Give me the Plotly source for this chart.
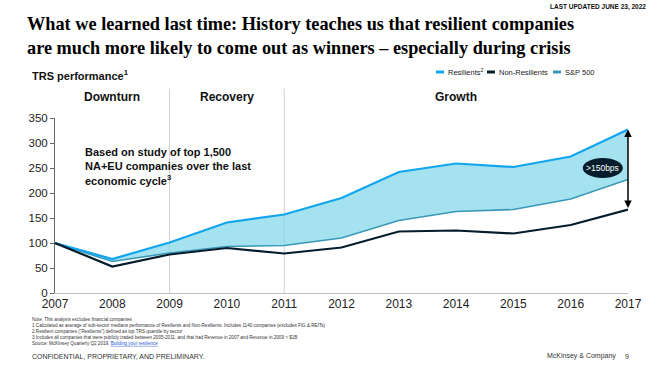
import plotly.graph_objects as go

years = [2007, 2008, 2009, 2010, 2011, 2012, 2013, 2014, 2015, 2016, 2017]
resilients = [100, 68, 101, 141, 157, 190, 242, 259, 252, 273, 327]
non_resilients = [100, 53, 77, 90, 79, 91, 123, 125, 119, 136, 167]
sp500 = [100, 63, 80, 93, 95, 110, 145, 163, 167, 188, 227]
phases = ["Downturn", "Recovery", "Growth"]
phase_centers = [2008, 2010, 2014.0]
phase_bounds = [2009, 2011]
y_ticks = [0, 50, 100, 150, 200, 250, 300, 350]

C_RES = "#12a5ee"
C_NON = "#051c2c"
C_SP = "#3a98b8"
C_FILL = "rgba(128,215,232,0.72)"

fig = go.Figure()
fig.add_trace(go.Scatter(x=years, y=sp500, mode="lines", name="S&P 500",
                         line=dict(color=C_SP, width=1.6), showlegend=False))
fig.add_trace(go.Scatter(x=years, y=resilients, mode="lines", name="Resilients",
                         line=dict(color=C_RES, width=2.2), fill="tonexty",
                         fillcolor=C_FILL, showlegend=False))
fig.add_trace(go.Scatter(x=years, y=non_resilients, mode="lines", name="Non-Resilients",
                         line=dict(color=C_NON, width=2.2), showlegend=False))

shapes = []
for b in phase_bounds:
    shapes.append(dict(type="line", xref="x", yref="paper", x0=b, x1=b, y0=0, y1=1.168,
                       line=dict(color="#d0d0d0", width=1), layer="below"))

shapes.append(dict(type="circle", xref="x", yref="y", xsizemode="pixel", ysizemode="pixel",
                   xanchor=2016.56, yanchor=250, x0=-20, x1=20, y0=-10, y1=10,
                   fillcolor=C_NON, line=dict(width=0)))

annotations = []
for name, cx in zip(phases, phase_centers):
    annotations.append(dict(text=f"<b>{name}</b>", x=cx, y=1.12, xref="x", yref="paper",
                            showarrow=False, font=dict(size=12, color="#111"),
                            xanchor="center", yanchor="middle"))

annotations.append(dict(x=years[-1], y=resilients[-1], ax=years[-1], ay=non_resilients[-1],
                        xref="x", yref="y", axref="x", ayref="y", showarrow=True,
                        arrowhead=2, arrowside="end+start", arrowsize=1, arrowwidth=1.5,
                        arrowcolor="#000", text=""))
annotations.append(dict(text=">150bps", x=2016.56, y=250, xref="x", yref="y", showarrow=False,
                        font=dict(size=8.5, color="white")))

annotations.append(dict(text="<b>Based on study of top 1,500<br>NA+EU companies over the last<br>economic cycle<sup>3</sup></b>",
                        xref="x", yref="y", x=2007.48, y=298, xanchor="left", yanchor="top",
                        align="left", showarrow=False, font=dict(size=11, color="#111")))

W, H = 659, 371
ml, mr, mt, mb = 55, 31, 118, 78
pw, ph = W - ml - mr, H - mt - mb

def px(x):
    return (x - ml) / pw

def py(y):
    return (H - mb - y) / ph

annotations.append(dict(text="<b>LAST UPDATED JUNE 23, 2022</b>", x=px(648), y=py(7), xref="paper", yref="paper",
                        xanchor="right", yanchor="middle", showarrow=False,
                        font=dict(size=6.5, color="#111", family="Liberation Sans")))
annotations.append(dict(text="<b>What we learned last time: History teaches us that resilient companies<br>are much more likely to come out as winners – especially during crisis</b>",
                        x=px(25), y=py(12), xref="paper", yref="paper", xanchor="left", yanchor="top",
                        align="left", showarrow=False,
                        font=dict(size=18.3, color="#000", family="Liberation Serif")))
annotations.append(dict(text="<b>TRS performance<sup>1</sup></b>", x=px(30), y=py(75), xref="paper", yref="paper",
                        xanchor="left", yanchor="middle", showarrow=False,
                        font=dict(size=11, color="#111")))

leg = [("Resilients<sup>2</sup>", C_RES, 436), ("Non-Resilients", C_NON, 487), ("S&P 500", C_SP, 553)]
for label, col, x0 in leg:
    shapes.append(dict(type="line", xref="paper", yref="paper", x0=px(x0), x1=px(x0 + 8),
                       y0=py(72), y1=py(72), line=dict(color=col, width=3)))
    annotations.append(dict(text=label, x=px(x0 + 10), y=py(72), xref="paper", yref="paper",
                            xanchor="left", yanchor="middle", showarrow=False,
                            font=dict(size=7.5, color="#222")))

notes = ("Note: This analysis excludes financial companies<br>"
         "1 Calculated as average of sub-sector medians performance of Resilients and Non-Resilients. Includes 1140 companies (excludes FIG & REITs)<br>"
         "2 Resilient companies (\"Resilients\") defined as top TRS quantile by sector<br>"
         "3 Includes all companies that were publicly traded between 2005-2011, and that had Revenue in 2007 and Revenue in 2009 > $1B<br>"
         "Source: McKinsey Quarterly Q2 2019; <span style='color:#2a5bd7'><u>Building your resilience</u></span>")
annotations.append(dict(text=notes, x=px(30), y=py(315), xref="paper", yref="paper", xanchor="left", yanchor="top",
                        align="left", showarrow=False, font=dict(size=4.6, color="#333")))
annotations.append(dict(text="CONFIDENTIAL, PROPRIETARY, AND PRELIMINARY.", x=px(30), y=py(356), xref="paper", yref="paper",
                        xanchor="left", yanchor="middle", showarrow=False, font=dict(size=7, color="#333")))
annotations.append(dict(text="McKinsey & Company", x=px(545), y=py(356), xref="paper", yref="paper",
                        xanchor="left", yanchor="middle", showarrow=False, font=dict(size=7, color="#333")))
annotations.append(dict(text="9", x=px(627), y=py(356), xref="paper", yref="paper",
                        xanchor="center", yanchor="middle", showarrow=False, font=dict(size=7, color="#333")))

fig.update_layout(
    width=W, height=H,
    margin=dict(l=ml, r=mr, t=mt, b=mb),
    paper_bgcolor="white", plot_bgcolor="white",
    font=dict(family="Liberation Sans, Arial", color="#222"),
    shapes=shapes, annotations=annotations,
    xaxis=dict(range=[2007, 2017], tickvals=years, ticktext=[str(y) for y in years],
               showgrid=False, zeroline=False, showline=True, linecolor="#bdbdbd", linewidth=1,
               tickfont=dict(size=12, color="#222"), ticks="", fixedrange=True),
    yaxis=dict(range=[0, 350], tickvals=y_ticks, showgrid=False, zeroline=False,
               showline=True, linecolor="#666", linewidth=1, ticks="outside", ticklen=4,
               tickcolor="#666", tickfont=dict(size=11.5, color="#222"), fixedrange=True),
    showlegend=False,
)

fig.write_html("out.html", config={"displayModeBar": False},
               post_script="document.body.style.margin='0';document.body.style.overflow='hidden';")
